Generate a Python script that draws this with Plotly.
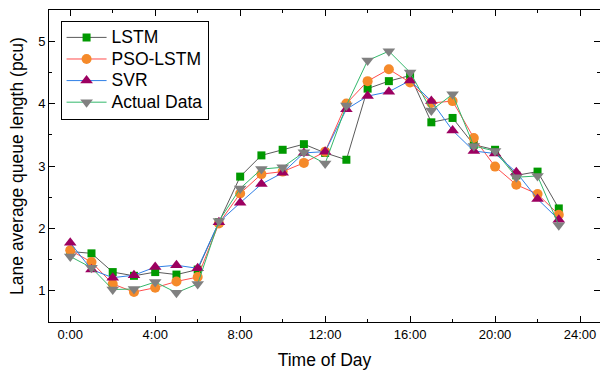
import plotly.graph_objects as go

# Hourly lane average queue length (pcu) for each model
hours = list(range(24))
lstm = [1.63, 1.60, 1.30, 1.24, 1.30, 1.26, 1.34, 2.10, 2.83, 3.17, 3.26, 3.35,
        3.21, 3.10, 4.24, 4.36, 4.45, 3.70, 3.77, 3.34, 3.26, 2.85, 2.91, 2.32]
pso_lstm = [1.65, 1.46, 1.11, 0.98, 1.05, 1.15, 1.22, 2.08, 2.56, 2.87, 2.91, 3.05,
            3.23, 4.00, 4.36, 4.55, 4.34, 4.01, 4.04, 3.45, 2.99, 2.70, 2.55, 2.22]
svr = [1.77, 1.34, 1.21, 1.25, 1.38, 1.41, 1.36, 2.10, 2.41, 2.71, 2.89, 3.21,
       3.23, 3.91, 4.12, 4.19, 4.37, 4.04, 3.57, 3.24, 3.20, 2.90, 2.47, 2.14]
actual = [1.55, 1.37, 1.02, 1.03, 1.14, 0.97, 1.11, 2.12, 2.64, 2.95, 2.98, 3.22,
          3.04, 3.97, 4.69, 4.84, 4.50, 3.89, 4.15, 3.32, 3.24, 2.82, 2.84, 2.05]

tick_hours = [0, 4, 8, 12, 16, 20, 24]
tick_labels = ["0:00", "4:00", "8:00", "12:00", "16:00", "20:00", "24:00"]

series = [
    ("LSTM", lstm, "#5a5a5a", "#009900", "square", 8),
    ("PSO-LSTM", pso_lstm, "#ff4d4d", "#f58a2a", "circle", 10),
    ("SVR", svr, "#2f7fe6", "#9c0060", "triangle-up", 11),
    ("Actual Data", actual, "#33b86b", "#808080", "triangle-down", 11),
]

fig = go.Figure()
for name, vals, line_c, mark_c, sym, size in series:
    fig.add_trace(go.Scatter(
        x=hours, y=vals,
        # larger glyphs inside a compact legend row
        name=f"<span style='font-size:17.5px'>{name}</span>",
        mode="lines+markers",
        line=dict(color=line_c, width=1),
        marker=dict(color=mark_c, symbol=sym, size=size, line=dict(width=0)),
    ))

axis_font = dict(family="Liberation Sans, Arial, sans-serif", size=13, color="black")
title_font = dict(family="Liberation Sans, Arial, sans-serif", size=17.5, color="black")

fig.update_layout(
    width=600, height=374,
    margin=dict(l=49, r=0, t=10, b=52),
    paper_bgcolor="white", plot_bgcolor="white",
    font=dict(family="Liberation Sans, Arial, sans-serif", color="black"),
    showlegend=True,
    legend=dict(
        x=0.021, y=0.966, xanchor="left", yanchor="top",
        bordercolor="black", borderwidth=1, bgcolor="white",
        font=dict(size=14.3, color="black"),
        itemwidth=40, tracegroupgap=0,
    ),
)

fig.update_xaxes(
    range=[-1, 24.94],
    tickmode="array", tickvals=tick_hours, ticktext=tick_labels,
    ticks="inside", ticklen=6, tickwidth=1, tickcolor="black",
    minor=dict(tickmode="array", tickvals=[2, 6, 10, 14, 18, 22],
               ticks="inside", ticklen=3, tickcolor="black"),
    showline=True, linecolor="black", linewidth=1, mirror="ticks",
    showgrid=False, zeroline=False,
    tickfont=axis_font,
    title=dict(text="Time of Day", font=title_font, standoff=13),
)
fig.update_yaxes(
    range=[0.5, 5.5],
    tickmode="array", tickvals=[1, 2, 3, 4, 5],
    ticks="inside", ticklen=6, tickwidth=1, tickcolor="black",
    minor=dict(tickmode="array", tickvals=[1.5, 2.5, 3.5, 4.5],
               ticks="inside", ticklen=3, tickcolor="black"),
    showline=True, linecolor="black", linewidth=1, mirror="ticks",
    showgrid=False, zeroline=False,
    tickfont=axis_font,
    title=dict(text="Lane average queue length (pcu)", font=title_font, standoff=10),
)

fig.write_html("out.html")
